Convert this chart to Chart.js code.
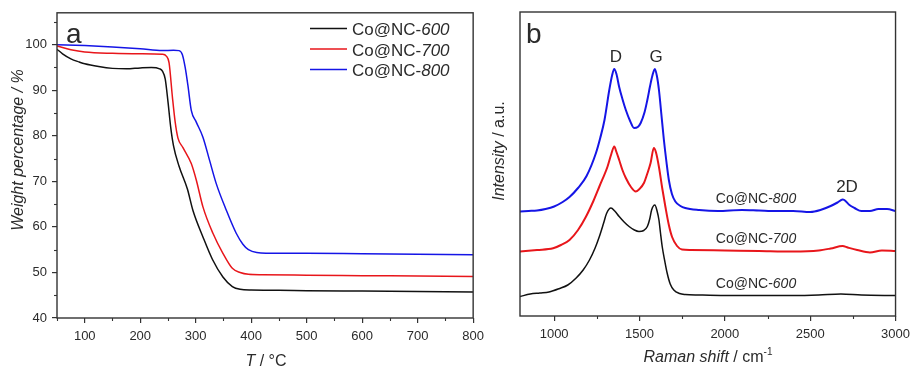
<!DOCTYPE html>
<html><head><meta charset="utf-8">
<script src="https://cdn.jsdelivr.net/npm/chart.js@4.4.0/dist/chart.umd.min.js"></script>
<style>
html,body{margin:0;padding:0;background:#fff;}
#wrap{position:relative;width:916px;height:368px;overflow:hidden;}
canvas{position:absolute;top:0;}
</style>
</head><body>
<div id="wrap">
<canvas id="ca" width="490" height="368" style="left:0"></canvas>
<canvas id="cb" width="426" height="368" style="left:490px"></canvas>
</div>
<script>
// ---------- Panel a: TGA (temperature °C, weight %) ----------
const t600 = [50, 60, 75, 90, 100, 125, 150, 175, 200, 220, 235, 240, 245, 250, 255, 260, 270, 285, 295, 313, 330, 349, 366, 380, 400, 450, 500, 600, 700, 800];
const w600 = [99.0, 98.0, 96.9, 96.2, 95.8, 95.2, 94.8, 94.7, 94.9, 95.0, 94.7, 94.2, 92.5, 87.5, 81.8, 77.8, 73.3, 68.3, 63.6, 57.8, 52.9, 49.0, 46.9, 46.3, 46.15, 46.1, 46.0, 45.9, 45.8, 45.7];
const t700 = [50, 75, 100, 150, 200, 240, 247, 252, 258, 263, 268, 277, 292, 301, 313, 331, 349, 366, 380, 395, 420, 500, 600, 700, 800];
const w700 = [99.7, 98.9, 98.4, 98.1, 98.0, 97.9, 97.5, 96.0, 88.5, 83.0, 79.5, 77.4, 73.9, 70.3, 64.4, 58.6, 54.2, 50.9, 50.0, 49.6, 49.5, 49.4, 49.3, 49.2, 49.1];
const t800 = [50, 100, 150, 200, 240, 260, 270, 276, 281, 286, 292, 301, 313, 325, 337, 355, 373, 385, 395, 410, 450, 500, 600, 700, 800];
const w800 = [100.0, 99.8, 99.5, 99.1, 98.7, 98.8, 98.7, 97.8, 95.0, 91.0, 85.6, 83.0, 79.7, 74.6, 69.5, 63.7, 58.6, 56.2, 55.0, 54.4, 54.2, 54.2, 54.1, 54.0, 53.9];
const tgaXTicks = [100, 200, 300, 400, 500, 600, 700, 800];
const tgaYTicks = [40, 50, 60, 70, 80, 90, 100];
const tgaSeries = ['600', '700', '800'];

// ---------- Panel b: Raman (shift cm-1, intensity a.u., stacked) ----------
const s800 = [800, 850, 900, 950, 1000, 1050, 1090, 1140, 1190, 1245, 1270, 1295, 1323, 1340, 1352, 1365, 1381, 1400, 1420, 1445, 1468, 1490, 1507, 1530, 1546, 1562, 1575, 1590, 1602, 1614, 1628, 1643, 1658, 1672, 1690, 1710, 1740, 1768, 1850, 1960, 2100, 2200, 2300, 2400, 2500, 2560, 2620, 2660, 2690, 2700, 2730, 2760, 2800, 2850, 2900, 2950, 3000];
const i800 = [104.5, 105, 105.5, 107, 109.5, 114, 119, 128, 140, 163, 178, 196, 226, 241, 247, 242, 229, 217, 206, 195, 188, 189, 193, 204, 216, 230, 240, 247, 240, 226, 202, 176, 154, 136, 122, 114.5, 110, 108, 106, 105, 106, 105.5, 105, 105, 104, 106, 110, 113.5, 116.5, 116, 111, 108, 105, 105, 107, 107, 105];
const s700 = [800, 900, 994, 1040, 1090, 1140, 1187, 1230, 1265, 1313, 1335, 1352, 1365, 1381, 1400, 1420, 1450, 1478, 1500, 1526, 1545, 1565, 1584, 1596, 1614, 1633, 1652, 1672, 1691, 1720, 1749, 1800, 2000, 2200, 2400, 2550, 2620, 2690, 2720, 2775, 2850, 2920, 3000];
const i700 = [64.5, 66, 67.7, 71, 76, 86, 99.5, 115, 129.5, 149.5, 162, 169.5, 164, 156, 146, 138, 129, 124.5, 127, 133, 142, 153, 168, 164, 149, 128, 109, 91, 79, 70, 66.5, 66, 65.5, 65, 64.5, 65.5, 67.5, 70, 68.5, 66, 63.5, 65.5, 65];
const s600 = [800, 860, 916, 970, 1032, 1080, 1129, 1170, 1207, 1240, 1265, 1290, 1307, 1333, 1355, 1381, 1410, 1439, 1470, 1497, 1525, 1546, 1560, 1571, 1590, 1603, 1614, 1623, 1633, 1648, 1662, 1680, 1701, 1735, 1768, 1850, 2000, 2200, 2400, 2550, 2680, 2800, 3000];
const i600 = [19.5, 22, 23, 24, 27.5, 31, 38, 46, 56, 68, 79.5, 93, 102.5, 108, 105, 99.5, 94, 89.5, 86, 84.5, 85.5, 89.5, 97, 106, 111, 105, 96, 83, 69.5, 55, 43, 32, 26, 22.5, 21.5, 21, 20.5, 20.5, 20.5, 21, 22, 21, 20.5];
const ramanXTicks = [1000, 1500, 2000, 2500, 3000];

const FONT = '"Liberation Sans", Arial, Helvetica, sans-serif';
const INK = '#2b2b2b';
const COLORS = { '600': '#111111', '700': '#e8161b', '800': '#1515e6' };

function fontFor(s, size) {
  const sz = s.sup ? Math.round(size * 0.62) : size;
  return (s.i ? 'italic ' : '') + sz + 'px ' + FONT;
}
function richWidth(ctx, segs, size) {
  let w = 0;
  for (const s of segs) { ctx.font = fontFor(s, size); w += ctx.measureText(s.t).width; }
  return w;
}
function drawRich(ctx, segs, x, y, size, align, rot) {
  ctx.save();
  ctx.translate(x, y);
  if (rot) ctx.rotate(rot);
  const w = richWidth(ctx, segs, size);
  let cx = align === 'center' ? -w / 2 : align === 'right' ? -w : 0;
  ctx.textAlign = 'left';
  ctx.textBaseline = 'alphabetic';
  ctx.fillStyle = INK;
  for (const s of segs) {
    ctx.font = fontFor(s, size);
    ctx.fillText(s.t, cx, s.sup ? -size * 0.42 : 0);
    cx += ctx.measureText(s.t).width;
  }
  ctx.restore();
}
function seriesName(n) { return [{ t: 'Co@NC-' }, { t: n, i: true }]; }

const decoPlugin = {
  id: 'deco',
  afterDraw(chart) {
    const o = chart.options.plugins.deco;
    const ctx = chart.ctx;
    const a = chart.chartArea;
    ctx.save();
    ctx.strokeStyle = '#333';
    ctx.lineWidth = 1.4;
    ctx.strokeRect(a.left, a.top, a.right - a.left, a.bottom - a.top);
    ctx.lineWidth = 1.1;
    if (o.minorX) {
      const sx = chart.scales.x;
      for (const v of o.minorX) {
        const px = Math.round(sx.getPixelForValue(v)) + 0.5;
        ctx.beginPath(); ctx.moveTo(px, a.bottom); ctx.lineTo(px, a.bottom + 3); ctx.stroke();
      }
    }
    if (o.minorY) {
      const sy = chart.scales.y;
      for (const v of o.minorY) {
        const py = Math.round(sy.getPixelForValue(v)) + 0.5;
        ctx.beginPath(); ctx.moveTo(a.left, py); ctx.lineTo(a.left - 3, py); ctx.stroke();
      }
    }
    for (const t of o.texts || []) drawRich(ctx, t.segs, t.x, t.y, t.size, t.align || 'left', t.rot || 0);
    if (o.legend) {
      const L = o.legend;
      chart.data.datasets.forEach((ds, k) => {
        const y = L.y0 + k * L.dy;
        ctx.strokeStyle = ds.borderColor;
        ctx.lineWidth = 1.6;
        ctx.beginPath(); ctx.moveTo(L.x0, y); ctx.lineTo(L.x1, y); ctx.stroke();
        drawRich(ctx, seriesName(ds.label), L.tx, y + 6.5, L.size, 'left', 0);
      });
    }
    ctx.restore();
  }
};

function axisCommon() {
  return {
    grid: { display: true, drawOnChartArea: false, drawTicks: true, tickLength: 5, color: '#333', lineWidth: 1.2 },
    border: { display: false },
    ticks: { color: INK, font: { family: FONT, size: 13 }, autoSkip: false, maxRotation: 0, padding: 5 }
  };
}
function range(a, b, step) { const r = []; for (let v = a; v <= b + 1e-9; v += step) r.push(v); return r; }

// ---- chart a ----
const tgaData = { '600': [t600, w600], '700': [t700, w700], '800': [t800, w800] };
const xa = axisCommon();
const ya = axisCommon();
new Chart(document.getElementById('ca'), {
  type: 'line',
  data: {
    datasets: tgaSeries.map(n => ({
      label: n,
      data: tgaData[n][0].map((t, i) => ({ x: t, y: tgaData[n][1][i] })),
      borderColor: COLORS[n], borderWidth: 1.5, pointRadius: 0,
      cubicInterpolationMode: 'monotone', fill: false
    }))
  },
  options: {
    responsive: false, animation: false, devicePixelRatio: 1,
    layout: { padding: { top: 12, right: 15, left: 0, bottom: 0 } },
    scales: {
      x: Object.assign(xa, {
        type: 'linear', min: 50, max: 800,
        afterBuildTicks: s => { s.ticks = tgaXTicks.map(v => ({ value: v })); },
        afterFit: s => { s.height = 50; },
        ticks: Object.assign(xa.ticks, { callback: v => String(v), padding: 6 })
      }),
      y: Object.assign(ya, {
        type: 'linear', min: 40, max: 107,
        afterBuildTicks: s => { s.ticks = tgaYTicks.map(v => ({ value: v })); },
        afterFit: s => { s.width = 57; },
        ticks: Object.assign(ya.ticks, { callback: v => String(v), padding: 5 })
      })
    },
    plugins: {
      legend: { display: false }, tooltip: { enabled: false },
      deco: {
        minorX: range(50, 750, 100),
        minorY: range(45, 105, 10),
        texts: [
          { segs: [{ t: 'a' }], x: 66, y: 43, size: 28 },
          { segs: [{ t: 'Weight percentage / %', i: true }], x: 23, y: 150, size: 16, align: 'center', rot: -Math.PI / 2 },
          { segs: [{ t: 'T', i: true }, { t: ' / \u00B0C' }], x: 266, y: 366, size: 16, align: 'center' }
        ],
        legend: { x0: 310, x1: 347, tx: 352, y0: 28.5, dy: 20.5, size: 17 }
      }
    }
  },
  plugins: [decoPlugin]
});

// ---- chart b ----
const ramanData = { '600': [s600, i600], '700': [s700, i700], '800': [s800, i800] };
const xb = axisCommon();
new Chart(document.getElementById('cb'), {
  type: 'line',
  data: {
    datasets: tgaSeries.map(n => ({
      label: n,
      data: ramanData[n][0].map((s, i) => ({ x: s, y: ramanData[n][1][i] })),
      borderColor: COLORS[n], borderWidth: n === '600' ? 1.5 : 2, pointRadius: 0,
      cubicInterpolationMode: 'monotone', fill: false
    }))
  },
  options: {
    responsive: false, animation: false, devicePixelRatio: 1,
    layout: { padding: { top: 12, right: 17, left: 30, bottom: 0 } },
    scales: {
      x: Object.assign(xb, {
        type: 'linear', min: 800, max: 3000,
        afterBuildTicks: s => { s.ticks = ramanXTicks.map(v => ({ value: v })); },
        afterFit: s => { s.height = 52; },
        ticks: Object.assign(xb.ticks, { callback: v => String(v), padding: 6 })
      }),
      y: { type: 'linear', min: 0, max: 304, display: false }
    },
    plugins: {
      legend: { display: false }, tooltip: { enabled: false },
      deco: {
        minorX: [1250, 1750, 2250, 2750],
        texts: [
          { segs: [{ t: 'b' }], x: 36, y: 43, size: 28 },
          { segs: [{ t: 'Intensity', i: true }, { t: ' / a.u.' }], x: 14, y: 151, size: 16, align: 'center', rot: -Math.PI / 2 },
          { segs: [{ t: 'Raman shift', i: true }, { t: ' / cm' }, { t: '-1', sup: true }], x: 218, y: 362, size: 16, align: 'center' },
          { segs: [{ t: 'D' }], x: 126, y: 62, size: 17, align: 'center' },
          { segs: [{ t: 'G' }], x: 166, y: 62, size: 17, align: 'center' },
          { segs: [{ t: '2D' }], x: 357, y: 192, size: 17, align: 'center' },
          { segs: seriesName('800'), x: 266, y: 203, size: 14, align: 'center' },
          { segs: seriesName('700'), x: 266, y: 243, size: 14, align: 'center' },
          { segs: seriesName('600'), x: 266, y: 288, size: 14, align: 'center' }
        ]
      }
    }
  },
  plugins: [decoPlugin]
});
</script>
</body></html>
